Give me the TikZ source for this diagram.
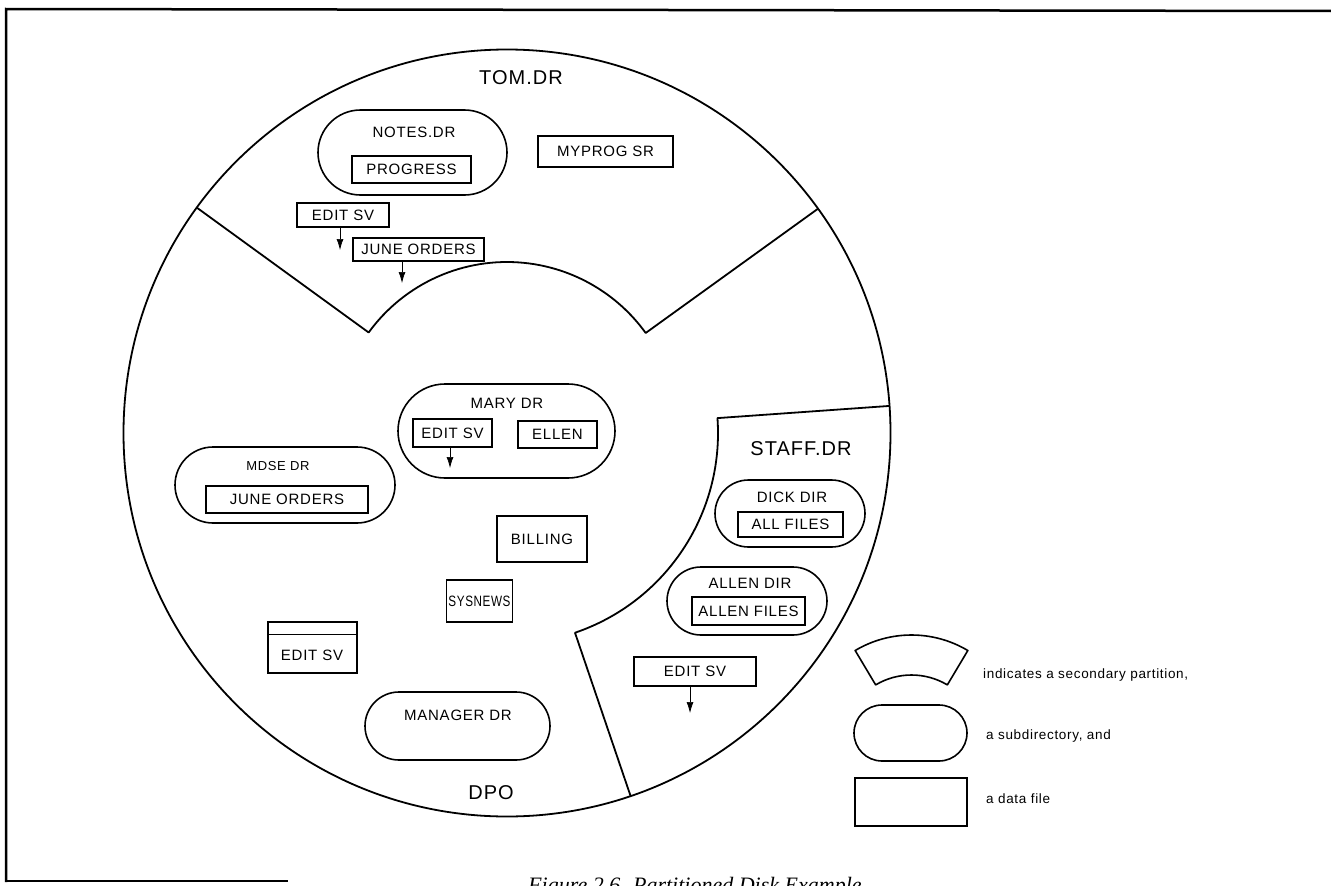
\documentclass[tikz,border=0pt]{standalone}
\usepackage{fontspec}
\setmainfont{Liberation Sans}
\newfontfamily\lbl[LetterSpace=5]{Liberation Sans}
\newfontfamily\capfont{Liberation Serif}
\usetikzlibrary{calc,arrows.meta,shapes.misc}
\begin{document}
\begin{tikzpicture}[x=1pt,y=1pt,
  lab/.style={font=\lbl\fontsize{15}{18}\selectfont, inner sep=0pt},
  smalllab/.style={font=\lbl\fontsize{13}{16}\selectfont, inner sep=0pt},
  big/.style={font=\lbl\fontsize{20}{24}\selectfont, inner sep=0pt},
  leg/.style={font=\lbl\fontsize{13.5}{16}\selectfont, inner sep=0pt, anchor=base west},
  filebox/.style={draw, line width=1.5pt, inner sep=0pt, font=\lbl\fontsize{15}{18}\selectfont},
  subdir/.style={draw, line width=1.6pt, rounded rectangle, inner sep=0pt},
  part/.style={line width=1.8pt, line join=round},
  ptr/.style={line width=0.7pt, -{Latex[length=11pt,width=7pt]}},
]
\useasboundingbox (0,0) rectangle (1331,-886);
\clip (0,0) rectangle (1331,-886);
\fill[white] (0,0) rectangle (1331,-886);
% frame
\draw[line width=2.5pt] (6,-882) -- (6,-9) -- (1331,-11);
\draw[line width=1.5pt] (6,-881) -- (288,-881);
% disk
\coordinate (C) at (507,-433);
\draw[part] (C) circle[radius=383.5pt];
% TOM partition
\draw[part] ($(C)+(144:383.5)$) -- ($(C)+(144:171)$)
  arc[start angle=144, end angle=35.8, radius=171pt] -- ($(C)+(35.8:383.5)$);
% STAFF partition
\draw[part] ($(C)+(4.05:383.5)$) -- ($(C)+(4.05:211)$)
  arc[start angle=4.05, end angle=-71.2, radius=211pt] -- ($(C)+(-71.2:383.5)$);

% TOM.DR contents
\node[big] (tom) at (521,-78) {TOM.DR};
\node[subdir, minimum width=189, minimum height=85] (notes) at (412.5,-152.5) {};
\node[lab] (notesl) at (414,-132) {NOTES.DR};
\node[filebox, minimum width=119, minimum height=27] (progress) at (411.5,-169.5) {PROGRESS};
\node[filebox, minimum width=135, minimum height=31] (myprog) at (605.5,-151.5) {MYPROG SR};
\node[filebox, minimum width=92, minimum height=24] (edit1) at (343,-215) {EDIT SV};
\node[filebox, minimum width=131, minimum height=23] (june1) at (418.5,-249.5) {JUNE ORDERS};
\coordinate (edit1t) at (340,-250);
\coordinate (june1t) at (402,-283);
\draw[ptr] (edit1.south -| edit1t) -- (edit1t);
\draw[ptr] (june1.south -| june1t) -- (june1t);

% DP0 contents
\node[subdir, minimum width=217, minimum height=94] (mary) at (506.5,-431) {};
\node[lab] (maryl) at (507,-403) {MARY DR};
\node[filebox, minimum width=79, minimum height=28] (edit2) at (452.5,-433) {EDIT SV};
\node[filebox, minimum width=79, minimum height=27] (ellen) at (557.5,-434.5) {ELLEN};
\coordinate (edit2t) at (450,-468);
\draw[ptr] (edit2.south -| edit2t) -- (edit2t);

\node[subdir, minimum width=220, minimum height=76] (mdse) at (285,-485) {};
\node[smalllab] (mdsel) at (278,-466) {MDSE DR};
\node[filebox, minimum width=162, minimum height=27] (june2) at (287,-499.5) {JUNE ORDERS};

\node[filebox, minimum width=90, minimum height=46] (billing) at (542,-539) {BILLING};
\node[filebox, minimum width=66, minimum height=42] (sysnews) at (479.5,-601) {\scalebox{0.78}[1]{SYSNEWS}};

\node[draw, line width=1.5pt, inner sep=0pt, minimum width=89, minimum height=51] (edit3) at (312.5,-647.5) {};
\draw[line width=1.5pt] ([yshift=-13pt]edit3.north west) -- ([yshift=-13pt]edit3.north east);
\node[lab] (edit3l) at (312,-655) {EDIT SV};

\node[subdir, minimum width=185, minimum height=68] (manager) at (457.5,-726) {};
\node[lab] (managerl) at (458,-715) {MANAGER DR};
\node[big] (dpo) at (491,-793) {DPO};

% STAFF.DR contents
\node[big] (staff) at (801,-449) {STAFF.DR};
\node[subdir, minimum width=150, minimum height=67] (dick) at (790,-513.5) {};
\node[lab] (dickl) at (792,-497) {DICK DIR};
\node[filebox, minimum width=105, minimum height=25] (allf) at (790.5,-524.5) {ALL FILES};
\node[subdir, minimum width=160, minimum height=68] (allen) at (747,-601) {};
\node[lab] (allenl) at (750,-583) {ALLEN DIR};
\node[filebox, minimum width=113, minimum height=28] (allenf) at (748.5,-611) {ALLEN FILES};
\node[filebox, minimum width=122, minimum height=29] (edit4) at (695,-671.5) {EDIT SV};
\coordinate (edit4t) at (690,-713);
\draw[ptr] (edit4.south -| edit4t) -- (edit4t);

% legend
\coordinate (LC) at (911.5,-745);
\draw[part, line width=1.6pt] ($(LC)+(120.8:110)$) arc[start angle=120.8, end angle=59.2, radius=110pt]
  -- ($(LC)+(59.2:70)$) arc[start angle=59.2, end angle=120.8, radius=70pt] -- cycle;
\node[subdir, minimum width=113, minimum height=56] (legsub) at (910.5,-733) {};
\node[draw, line width=1.5pt, inner sep=0pt, minimum width=112, minimum height=48] (legfile) at (911,-802) {};
\node[leg] (t1) at (983,-678) {indicates a secondary partition,};
\node[leg] (t2) at (986,-739) {a subdirectory, and};
\node[leg] (t3) at (986,-803) {a data file};

% caption (cut off at the lower edge, as in the reference)
\node[font=\capfont\itshape\fontsize{22}{26}\selectfont, anchor=base west, inner sep=0pt] (cap) at (528,-892) {Figure 2.6. Partitioned Disk Example};
\end{tikzpicture}
\end{document}
